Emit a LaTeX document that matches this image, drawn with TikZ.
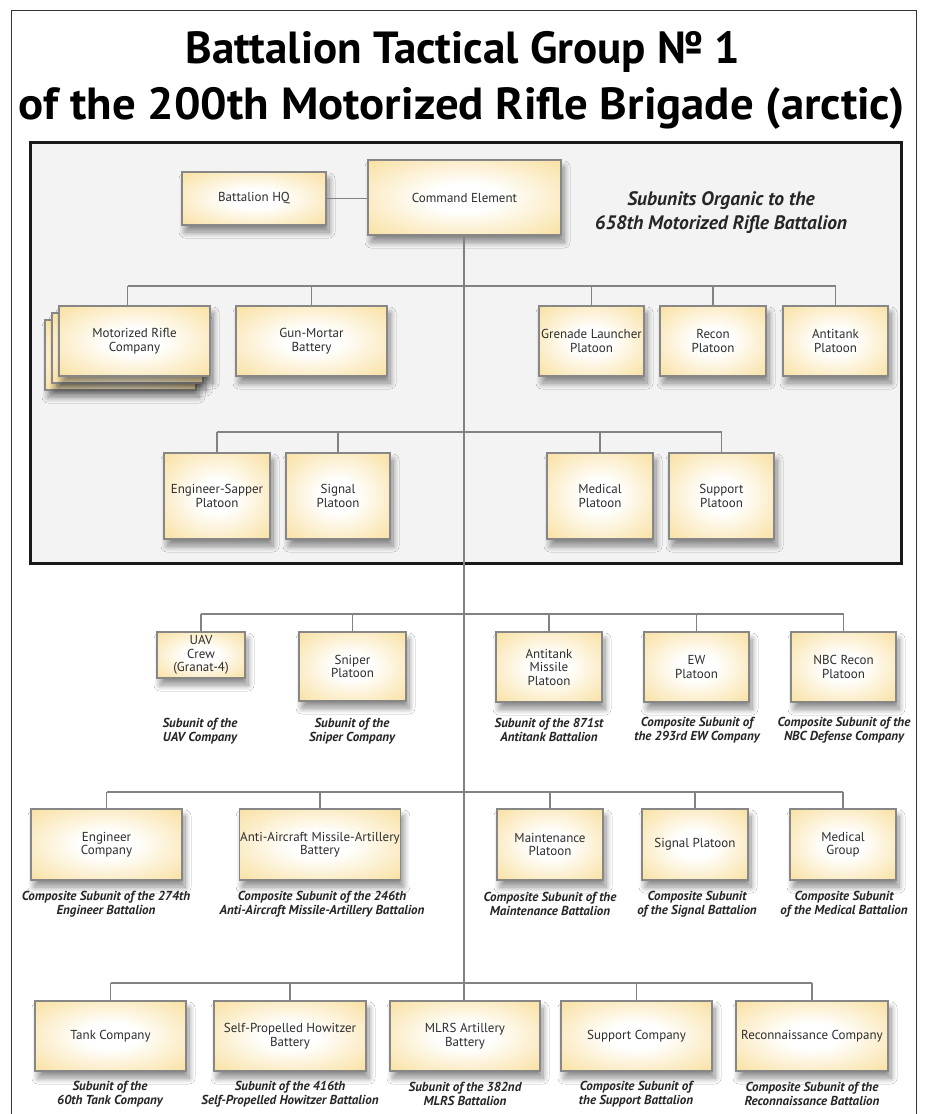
\documentclass[tikz,border=0pt]{standalone}
\usepackage{fontspec}
\setmainfont{PT Sans}
\usetikzlibrary{shadows.blur}
\definecolor{boxY}{RGB}{249,224,160}
\definecolor{boxLine}{RGB}{135,135,135}
\definecolor{conLine}{RGB}{130,130,130}
\definecolor{panel}{RGB}{243,243,243}
\definecolor{txt}{RGB}{45,45,45}
\pgfdeclareradialshading{boxshade}{\pgfpoint{0bp}{0bp}}{color(0bp)=(white); color(9bp)=(white); color(36bp)=(boxY); color(50bp)=(boxY)}
\tikzset{
  ubox/.style={draw=boxLine, line width=1.3pt, shading=boxshade, align=center,
    text=txt, font=\fontsize{13}{13.5}\selectfont, inner sep=1pt,
    blur shadow={shadow xshift=3pt, shadow yshift=-7pt, shadow blur radius=6pt, shadow blur steps=12, shadow opacity=45}},
  bw/.style 2 args={minimum width=#1pt, minimum height=#2pt},
  con/.style={draw=conLine, line width=1.3pt},
  capt/.style={align=center, text=black!85, font=\bfseries\itshape\fontsize{13}{13.5}\selectfont, inner sep=0pt},
  ttl/.style={font=\bfseries\fontsize{45}{48}\selectfont, anchor=base, inner sep=0pt}
}
\begin{document}
\begin{tikzpicture}[x=1pt,y=-1pt]
\useasboundingbox[fill=white] (0,0) rectangle (924,1114);
% outer frame
\draw[line width=1pt, black!80] (11,1114) |- (916,10) -- (916,1114);
% title
\node[ttl] (t1) at (463,63) {Battalion Tactical Group № 1};
\node[ttl] (t2) at (462,119) {\scalebox{1.04}[1]{of the 200th Motorized Rifle Brigade (arctic)}};
% panel
\draw[line width=3pt, fill=panel, draw=black!90] (30,142) rectangle (901,563);
\node[font=\bfseries\itshape\fontsize{19.5}{24}\selectfont, align=center, text=black!85] (sub) at (721,213) {Subunits Organic to the\\658th Motorized Rifle Battalion};
% top
\node[ubox, bw={144}{53}] (hq) at (254,198.5) {Battalion HQ};
\node[ubox, bw={193}{75}] (ce) at (464.5,197.5) {Command Element};
% row 1
\node[ubox, bw={151}{70}] (mrc3) at (120.5,355) {};
\node[ubox, bw={151}{70}] (mrc2) at (127.5,348) {};
\node[ubox, bw={151}{70}] (mrc) at (134.5,341) {Motorized Rifle\\Company};
\node[ubox, bw={151}{70}] (gm) at (311.5,341) {Gun-Mortar\\Battery};
\node[ubox, bw={105}{70}] (gl) at (591.5,341) {Grenade Launcher\\Platoon};
\node[ubox, bw={106}{70}] (rec) at (713,341) {Recon\\Platoon};
\node[ubox, bw={105}{70}] (at) at (835.5,341) {Antitank\\Platoon};
% row 2
\node[ubox, bw={106}{86}] (es) at (217,496) {Engineer-Sapper\\Platoon};
\node[ubox, bw={104}{86}] (sig) at (338,496) {Signal\\Platoon};
\node[ubox, bw={106}{86}] (med) at (600,496) {Medical\\Platoon};
\node[ubox, bw={105}{86}] (sup) at (721.5,496) {Support\\Platoon};
% row 3
\node[ubox, bw={88}{46}] (uav) at (201,655) {UAV\\Crew\\(Granat-4)};
\node[ubox, bw={107}{69}] (sn) at (352.5,666.5) {Sniper\\Platoon};
\node[ubox, bw={106}{70}] (atm) at (549,667) {Antitank\\Missile\\Platoon};
\node[ubox, bw={105}{70}] (ew) at (696.5,667) {EW\\Platoon};
\node[ubox, bw={105}{70}] (nbc) at (843.5,667) {NBC Recon\\Platoon};
\node[capt] (cuav) at (200,731) {Subunit of the\\UAV Company};
\node[capt] (csn) at (352,731) {Subunit of the\\Sniper Company};
\node[capt] (catm) at (549,730) {Subunit of the 871st\\Antitank Battalion};
\node[capt] (cew) at (697,730) {Composite Subunit of\\the 293rd EW Company};
\node[capt] (cnbc) at (844,730) {Composite Subunit of the\\NBC Defense Company};
% row 4
\node[ubox, bw={151}{71}] (eng) at (106.5,844.5) {Engineer\\Company};
\node[ubox, bw={152}{71}] (aa) at (320,844.5) {Anti-Aircraft Missile-Artillery\\Battery};
\node[ubox, bw={106}{71}] (mnt) at (550,844.5) {Maintenance\\Platoon};
\node[ubox, bw={106}{71}] (sigp) at (695,844.5) {Signal Platoon};
\node[ubox, bw={106}{71}] (mg) at (843,844.5) {Medical\\Group};
\node[capt] (ceng) at (106,904) {Composite Subunit of the 274th\\Engineer Battalion};
\node[capt] (caa) at (322,904) {Composite Subunit of the 246th\\Anti-Aircraft Missile-Artillery Battalion};
\node[capt] (cmnt) at (550,904) {Composite Subunit of the\\Maintenance Battalion};
\node[capt] (csigp) at (697,904) {Composite Subunit\\of the Signal Battalion};
\node[capt] (cmg) at (844,904) {Composite Subunit\\of the Medical Battalion};
% row 5
\node[ubox, bw={151}{70}] (tank) at (110.5,1036) {Tank Company};
\node[ubox, bw={152}{70}] (sph) at (290,1036) {Self-Propelled Howitzer\\Battery};
\node[ubox, bw={150}{70}] (mlrs) at (465,1036) {MLRS Artillery\\Battery};
\node[ubox, bw={151}{70}] (supc) at (636.5,1036) {Support Company};
\node[ubox, bw={152}{70}] (recc) at (812,1036) {Reconnaissance Company};
\node[capt] (ctank) at (110,1094) {Subunit of the\\60th Tank Company};
\node[capt] (csph) at (290,1094) {Subunit of the 416th\\Self-Propelled Howitzer Battalion};
\node[capt] (cmlrs) at (465,1094) {Subunit of the 382nd\\MLRS Battalion};
\node[capt] (csupc) at (636,1094) {Composite Subunit of\\the Support Battalion};
\node[capt] (crecc) at (812,1094) {Composite Subunit of the\\Reconnaissance Battalion};
% trunk coordinates
\coordinate (r1) at (464,286);
\coordinate (r2) at (464,432);
\coordinate (r3) at (464,614);
\coordinate (r4) at (464,792);
\coordinate (r5) at (464,983);
% connectors
\draw[con] (hq.east) -- (hq.east -| ce.west);
\draw[con] (ce.south -| r5) -- (mlrs.north -| r5);
% row 1
\draw[con] ([xshift=-7pt]mrc.north |- r1) -- (at.north |- r1);
\draw[con] ([xshift=-7pt]mrc.north |- r1) -- ([xshift=-7pt]mrc.north);
\foreach \n in {gm,gl,rec,at} \draw[con] (\n.north |- r1) -- (\n.north);
% row 2
\draw[con] (es.north |- r2) -- (sup.north |- r2);
\foreach \n in {es,sig,med,sup} \draw[con] (\n.north |- r2) -- (\n.north);
% row 3
\draw[con] (uav.north |- r3) -- (nbc.north |- r3);
\foreach \n in {uav,sn,atm,ew,nbc} \draw[con] (\n.north |- r3) -- (\n.north);
% row 4
\draw[con] (eng.north |- r4) -- (mg.north |- r4);
\foreach \n in {eng,aa,mnt,sigp,mg} \draw[con] (\n.north |- r4) -- (\n.north);
% row 5
\draw[con] (tank.north |- r5) -- (recc.north |- r5);
\foreach \n in {tank,sph,supc,recc} \draw[con] (\n.north |- r5) -- (\n.north);
\end{tikzpicture}
\end{document}
